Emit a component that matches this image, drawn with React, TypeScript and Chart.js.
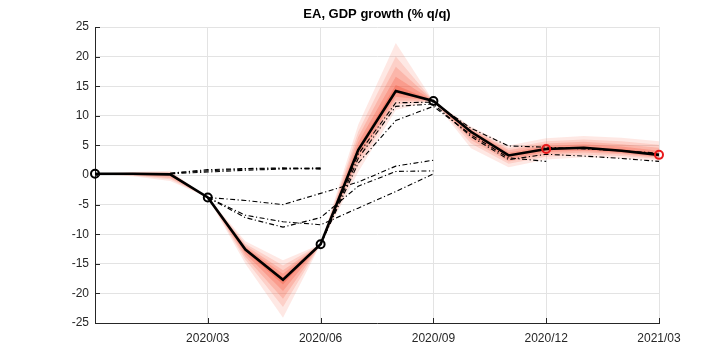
import React, { useEffect, useRef } from "react";
import { Chart, registerables } from "chart.js";

Chart.register(...registerables);

const months = [
  "2019/12", "2020/01", "2020/02", "2020/03", "2020/04", "2020/05", "2020/06", "2020/07",
  "2020/08", "2020/09", "2020/10", "2020/11", "2020/12", "2021/01", "2021/02", "2021/03",
];
const yTicksMin = -25;
const yTicksMax = 25;
const yStep = 5;

const gdp = [0.2, 0.2, 0.1, -3.8, -12.6, -17.7, -11.7, 4.2, 14.2, 12.5, 7.3, 3.3, 4.4, 4.6, 4.1, 3.4];

// fan bands (innermost 1 .. outermost 5)
const fanUp1 = [0.2, 0.2, 0.2, -3.8, -12.4, -17.3, -11.7, 4.7, 15.2, 12.5, 7.4, 3.5, 4.6, 4.8, 4.4, 3.7];
const fanLo1 = [0.2, 0.1, 0.0, -3.8, -12.9, -18.5, -11.7, 3.8, 13.8, 12.5, 7.0, 3.1, 4.2, 4.4, 3.9, 3.3];
const fanUp2 = [0.2, 0.3, 0.3, -3.8, -12.2, -16.7, -11.7, 5.5, 16.6, 12.5, 7.6, 3.8, 4.9, 5.2, 4.8, 4.1];
const fanLo2 = [0.2, 0.1, -0.2, -3.8, -13.3, -19.6, -11.7, 3.1, 13.2, 12.5, 6.5, 2.7, 3.9, 4.1, 3.7, 3.1];
const fanUp3 = [0.2, 0.4, 0.4, -3.8, -11.9, -16.1, -11.7, 6.4, 18.3, 12.5, 7.8, 4.2, 5.3, 5.6, 5.2, 4.6];
const fanLo3 = [0.2, 0.0, -0.5, -3.8, -13.8, -20.9, -11.7, 2.4, 12.6, 12.5, 5.9, 2.3, 3.5, 3.8, 3.5, 2.9];
const fanUp4 = [0.2, 0.4, 0.5, -3.8, -11.6, -15.3, -11.7, 7.3, 20.0, 12.5, 7.9, 4.5, 5.7, 6.0, 5.7, 5.1];
const fanLo4 = [0.2, -0.1, -0.7, -3.8, -14.3, -22.3, -11.7, 1.5, 11.9, 12.5, 5.3, 1.9, 3.1, 3.4, 3.2, 2.7];
const fanUp5 = [0.2, 0.5, 0.7, -3.8, -11.2, -14.4, -11.7, 8.5, 22.3, 12.5, 8.2, 5.0, 6.2, 6.6, 6.3, 5.7];
const fanLo5 = [0.2, -0.2, -1.0, -3.8, -15.0, -24.1, -11.7, 0.5, 11.0, 12.5, 4.5, 1.3, 2.6, 3.0, 2.8, 2.4];

// earlier forecasts (dash-dot)
const N = null;
const fcA = [N, N, 0.3, 0.9, 1.1, 1.2, 1.1, N, N, N, N, N, N, N, N, N];
const fcB = [N, N, 0.3, 0.7, 1.0, 1.1, 1.0, N, N, N, N, N, N, N, N, N];
const fcC = [N, N, 0.2, 0.5, 0.8, 1.0, 1.2, N, N, N, N, N, N, N, N, N];
const fcD = [N, N, N, -3.8, -4.3, -5.0, -3.1, -1.2, 1.5, 2.5, N, N, N, N, N, N];
const fcE = [N, N, N, -3.8, -6.8, -7.9, -8.4, -5.6, -2.8, 0.2, N, N, N, N, N, N];
const fcF = [N, N, N, -3.8, -7.2, -8.8, -7.2, -1.9, 0.6, 0.7, N, N, N, N, N, N];
const fcG = [N, N, N, N, N, N, -11.7, 3.5, 12.2, 12.3, 7.9, 4.9, 4.7, 4.4, 4.1, 3.7];
const fcH = [N, N, N, N, N, N, -11.7, 2.8, 11.6, 12.0, 6.5, 2.6, 3.5, 3.2, 2.8, 2.3];
const fcI = [N, N, N, N, N, N, -11.7, 2.0, 9.2, 11.6, 6.8, 2.9, 2.3, N, N, N];

const obsBlack = [0.2, N, N, -3.8, N, N, -11.7, N, N, 12.5, N, N, N, N, N, N];
const obsRed = [N, N, N, N, N, N, N, N, N, N, N, N, 4.4, N, N, 3.4];

const title = "EA, GDP growth (% q/q)";
const axisColor = "#262626";
const gridColor = "#e3e3e3";
const fanColors = [
  "rgba(242, 45, 25, 0.30)",
  "rgba(242, 60, 35, 0.26)",
  "rgba(244, 80, 55, 0.22)",
  "rgba(246, 100, 75, 0.19)",
  "rgba(248, 120, 95, 0.17)",
];

export default function App() {
  const ref = useRef<HTMLCanvasElement | null>(null);

  useEffect(() => {
    document.body.style.margin = "0";
    const canvas = ref.current;
    if (!canvas) return;
    Chart.defaults.font.family = "'Liberation Sans', Arial, sans-serif";

    const band = (lo: number[], up: number[], color: string) => [
      {
        data: lo,
        borderWidth: 0,
        pointRadius: 0,
        backgroundColor: color,
        fill: "+1",
        order: 10,
        clip: false as any,
      },
      {
        data: up,
        borderWidth: 0,
        pointRadius: 0,
        backgroundColor: color,
        fill: false,
        order: 10,
        clip: false as any,
      },
    ];
    const dash = (d: (number | null)[]) => ({
      data: d,
      borderColor: "#000",
      borderWidth: 1.1,
      borderDash: [5, 2.5, 1.2, 2.5],
      pointRadius: 0,
      fill: false,
      spanGaps: false,
      order: 5,
      clip: false as any,
    });

    const titlePlugin = {
      id: "customTitle",
      afterDraw(chart: any) {
        const { ctx, chartArea, scales } = chart;
        ctx.save();
        ctx.font = "bold 13px 'Liberation Sans', Arial, sans-serif";
        ctx.fillStyle = "#000";
        ctx.textAlign = "center";
        ctx.textBaseline = "middle";
        ctx.fillText(title, (chartArea.left + chartArea.right) / 2, 14);
        // inward tick marks
        ctx.strokeStyle = axisColor;
        ctx.lineWidth = 1;
        ctx.beginPath();
        scales.y.ticks.forEach((t: any) => {
          const y = Math.round(scales.y.getPixelForValue(t.value)) + 0.5;
          ctx.moveTo(chartArea.left, y);
          ctx.lineTo(chartArea.left + 5, y);
        });
        months.forEach((m, i) => {
          if (i % 3 === 0 && i > 0) {
            const x = Math.round(scales.x.getPixelForValue(i)) + 0.5;
            ctx.moveTo(x, chartArea.bottom);
            ctx.lineTo(x, chartArea.bottom - 5);
          }
        });
        ctx.stroke();
        ctx.restore();
      },
    };

    const chart = new Chart(canvas, {
      type: "line",
      data: {
        labels: months,
        datasets: [
          ...band(fanLo5, fanUp5, fanColors[4]),
          ...band(fanLo4, fanUp4, fanColors[3]),
          ...band(fanLo3, fanUp3, fanColors[2]),
          ...band(fanLo2, fanUp2, fanColors[1]),
          ...band(fanLo1, fanUp1, fanColors[0]),
          dash(fcA),
          dash(fcB),
          dash(fcC),
          dash(fcD),
          dash(fcE),
          dash(fcF),
          dash(fcG),
          dash(fcH),
          dash(fcI),
          {
            data: gdp,
            borderColor: "#000",
            borderWidth: 2.6,
            pointRadius: 0,
            fill: false,
            order: 2,
            clip: false as any,
          },
          {
            data: obsBlack,
            showLine: false,
            pointRadius: 4,
            pointBorderWidth: 2,
            pointBorderColor: "#000",
            pointBackgroundColor: "rgba(0,0,0,0)",
            order: 1,
            clip: false as any,
          },
          {
            data: obsRed,
            showLine: false,
            pointRadius: 4,
            pointBorderWidth: 2,
            pointBorderColor: "#e8191b",
            pointBackgroundColor: "rgba(0,0,0,0)",
            order: 0,
            clip: false as any,
          },
        ] as any,
      },
      options: {
        animation: false,
        responsive: true,
        maintainAspectRatio: false,
        layout: { padding: { left: 0, top: 27, right: 69, bottom: 0 } },
        plugins: {
          legend: { display: false },
          title: { display: false },
          tooltip: { enabled: false },
        },
        elements: { line: { tension: 0 } },
        scales: {
          x: {
            type: "category",
            offset: false,
            grid: {
              drawTicks: false,
              color: (c: any) => (c.index % 3 === 0 && c.index > 0 ? gridColor : "rgba(0,0,0,0)"),
            },
            border: { color: axisColor, width: 1 },
            ticks: {
              autoSkip: false,
              maxRotation: 0,
              padding: 8,
              color: axisColor,
              font: { size: 12 },
              callback: (_v: any, i: number) => (i % 3 === 0 && i > 0 ? months[i] : ""),
            },
            afterFit: (s: any) => {
              s.height = 41;
            },
          },
          y: {
            min: yTicksMin,
            max: yTicksMax,
            grid: { drawTicks: false, color: gridColor },
            border: { color: axisColor, width: 1 },
            ticks: { stepSize: yStep, padding: 6, color: axisColor, font: { size: 12 } },
            afterFit: (s: any) => {
              s.width = 95;
            },
          },
        },
      },
      plugins: [titlePlugin],
    });
    return () => chart.destroy();
  }, []);

  return (
    <div style={{ width: 728, height: 364, position: "relative" }}>
      <canvas ref={ref} />
    </div>
  );
}
